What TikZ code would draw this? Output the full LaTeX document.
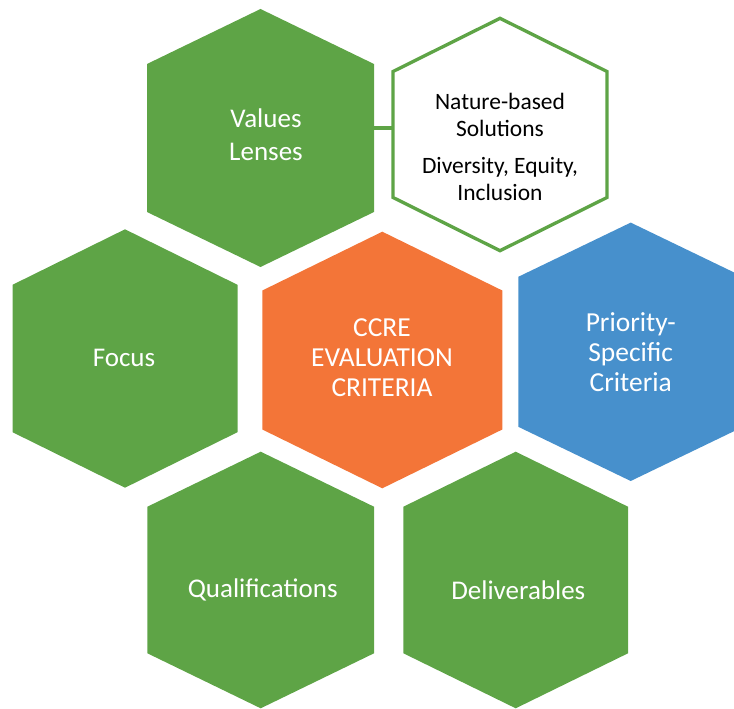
\documentclass[tikz,border=0pt]{standalone}
\usepackage{fontspec}
\setmainfont{Carlito}
\definecolor{hgreen}{RGB}{94,164,70}
\definecolor{horange}{RGB}{243,117,56}
\definecolor{hblue}{RGB}{71,144,204}
\newcommand\hexshape[6][]{%
  \path[#1] ({#2},{#3-#5}) -- ({#2+#4},{#3-#6}) -- ({#2+#4},{#3+#6}) --
    ({#2},{#3+#5}) -- ({#2-#4},{#3+#6}) -- ({#2-#4},{#3-#6}) -- cycle;}
\tikzset{
  hexfill/.style={fill=#1},
  hexline/.style={draw=hgreen, line width=2.5pt, fill=white, line join=miter},
  wlabel/.style={text=white, align=center, inner sep=0pt,
    font=\fontsize{20.25}{24.75}\selectfont},
  clabel/.style={wlabel, font=\fontsize{20.6}{22.5}\selectfont},
  blabel/.style={text=black, align=center, inner sep=0pt,
    font=\fontsize{17.6}{20.25}\selectfont},
  link/.style={draw=hgreen, line width=3pt}
}
\begin{document}
\begin{tikzpicture}[x=0.75pt,y=-0.75pt]
\useasboundingbox (0,0) rectangle (734,709);
\clip (0,0) rectangle (734,709);
% hexagons
\hexshape[hexfill=hgreen]{260.5}{138}{113.5}{129}{74}
\hexshape[hexline]{500}{134.5}{107}{116.2}{63}
\hexshape[hexfill=hgreen]{125}{358.5}{112.5}{129.2}{73.7}
\hexshape[hexfill=horange]{382.3}{360}{120}{128.3}{69.5}
\hexshape[hexfill=hblue]{630.7}{351.8}{112.4}{129.2}{75}
\hexshape[hexfill=hgreen]{260.7}{580}{113.3}{128.3}{73.3}
\hexshape[hexfill=hgreen]{515.7}{580}{112.3}{128.3}{73.3}
% connector
\coordinate (valR) at (374,128);
\coordinate (nbsL) at (393,128);
\draw[link] (valR) -- (nbsL);
% labels
\node[wlabel] (values) at (266,135) {Values\\Lenses};
\node[blabel] (nbs) at (500,147) {Nature-based\\Solutions\\[8pt]Diversity, Equity,\\Inclusion};
\node[wlabel] (focus) at (124,357.7) {Focus};
\node[clabel] (ccre) at (382,358) {CCRE\\EVALUATION\\CRITERIA};
\node[clabel] (prio) at (630.7,351.7) {Priority-\\Specific\\Criteria};
\node[wlabel] (qual) at (262.7,590) {Qualifications};
\node[wlabel] (deliv) at (518.3,590) {Deliverables};
\end{tikzpicture}
\end{document}
